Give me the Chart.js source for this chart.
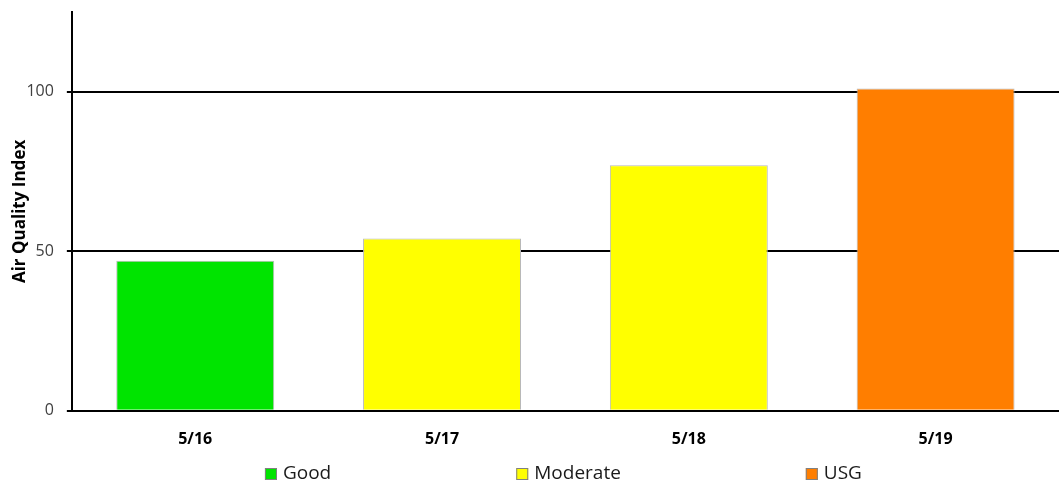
<!DOCTYPE html>
<html>
<head>
<meta charset="utf-8">
<script src="https://cdn.jsdelivr.net/npm/chart.js@4"></script>
<style>
  html, body { margin: 0; padding: 0; background: #fff; }
</style>
</head>
<body>
<canvas id="aqiChart" width="1059" height="485"></canvas>
<script>
// data
const days = ['5/16', '5/17', '5/18', '5/19'];
const good = [47, null, null, null];
const moderate = [null, 54, 77, null];
const usg = [null, null, null, 101];
const yTicks = [0, 50, 100];

const FONT = '"Open Sans", "Noto Sans", sans-serif';

// legend drawn under the plot area, items spaced apart like the original
const bottomLegend = {
    id: 'bottomLegend',
    afterDraw(chart) {
        const ctx = chart.ctx;
        const area = chart.chartArea;
        ctx.save();
        ctx.font = '19px ' + FONT;
        var items = chart.data.datasets.map(ds => ({
            text: ds.label,
            color: ds.backgroundColor,
            w: 12 + 6 + ctx.measureText(ds.label).width
        }));
        var gap = 185;
        var total = items.reduce((s, it) => s + it.w, 0) + gap * (items.length - 1);
        var x = (area.left + area.right) / 2 - total / 2 - 2;
        var y = chart.height - 11;
        items.forEach(it => {
            ctx.fillStyle = it.color;
            ctx.fillRect(x, y - 6, 12, 12);
            ctx.strokeStyle = '#808080';
            ctx.lineWidth = 1;
            ctx.strokeRect(x + 0.5, y - 5.5, 11, 11);
            ctx.fillStyle = '#1a1a1a';
            ctx.textBaseline = 'middle';
            ctx.fillText(it.text, x + 18, y);
            x += it.w + gap;
        });
        ctx.restore();
    }
};

var ctx = document.getElementById('aqiChart').getContext('2d');

new Chart(ctx, {
    type: 'bar',
    data: {
        labels: days,
        datasets: [
            { label: 'Good', data: good, backgroundColor: '#00e400' },
            { label: 'Moderate', data: moderate, backgroundColor: '#ffff00' },
            { label: 'USG', data: usg, backgroundColor: '#ff7e00' }
        ]
    },
    options: {
        responsive: false,
        animation: false,
        layout: {
            padding: { top: 12, right: 0, bottom: 25, left: 10 }
        },
        datasets: {
            bar: {
                skipNull: true,
                categoryPercentage: 1,
                barPercentage: 0.64,
                borderColor: '#b8b8b8',
                borderWidth: 1
            }
        },
        plugins: {
            legend: { display: false },
            tooltip: { enabled: false }
        },
        scales: {
            x: {
                grid: { display: false },
                border: { display: true, color: '#000', width: 2 },
                ticks: {
                    color: '#000',
                    padding: 11,
                    font: { family: FONT, size: 16, weight: 'bold' }
                }
            },
            y: {
                min: 0,
                max: 125,
                afterBuildTicks: axis => {
                    axis.ticks = yTicks.map(v => ({ value: v }));
                },
                // labels don't reach the top/bottom, so no extra padding needed
                afterFit: axis => {
                    axis.paddingTop = 0;
                    axis.paddingBottom = 0;
                },
                grid: { color: '#000', lineWidth: 2, tickLength: 5 },
                border: { color: '#000', width: 2 },
                ticks: {
                    color: '#404040',
                    padding: 13,
                    font: { family: FONT, size: 16 }
                },
                title: {
                    display: true,
                    text: 'Air Quality Index',
                    color: '#000',
                    padding: { top: 0, bottom: -17 },
                    font: { family: FONT, size: 17, weight: 'bold' }
                }
            }
        }
    },
    plugins: [bottomLegend]
});
</script>
</body>
</html>
